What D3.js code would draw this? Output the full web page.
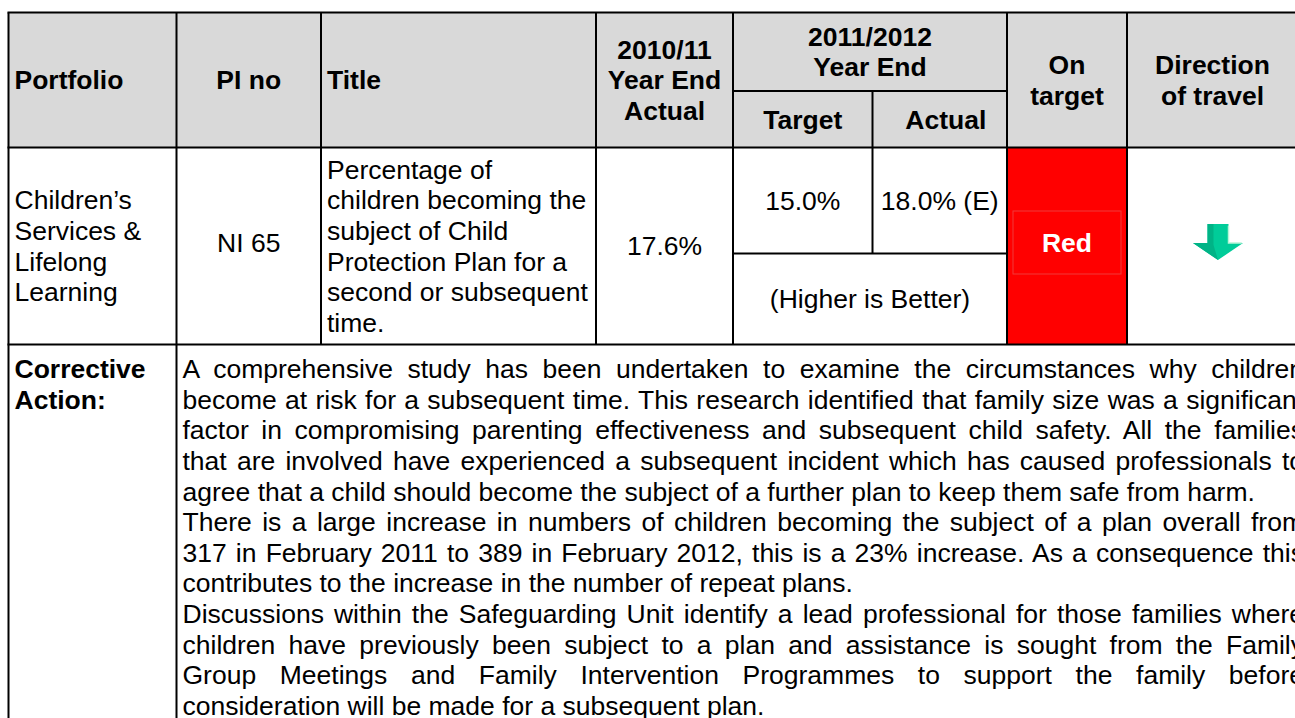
<!DOCTYPE html>
<meta charset="utf-8">
<script src="https://d3js.org/d3.v7.min.js"></script>
<style>
  body { margin: 0; background: #fff; }
  text { font-family: Arial, "Liberation Sans", sans-serif; fill: #000; }
</style>
<div id="my_table"></div>
<script>

// ---- table content ----
var headerCols = ["portfolio", "pino", "title", "prev", "target", "actual", "ontarget", "direction"];
var headerText = [["Portfolio"], ["PI no"], ["Title"], ["2010/11", "Year End", "Actual"],
                  ["Target"], ["Actual"], ["On", "target"], ["Direction", "of travel"]];
var groupHeader = ["2011/2012", "Year End"];

var rowText = [["Children’s", "Services &", "Lifelong", "Learning"],
               ["NI 65"],
               ["Percentage of", "children becoming the", "subject of Child",
                "Protection Plan for a", "second or subsequent", "time."],
               ["17.6%"], ["15.0%"], ["18.0% (E)"], ["Red"], []];
var polarity = "(Higher is Better)";
var status = "Red";
var trend = "down";

var actionLabel = ["Corrective", "Action:"];
var actionLines = [
  "A comprehensive study has been undertaken to examine the circumstances why children",
  "become at risk for a subsequent time. This research identified that family size was a significant",
  "factor in compromising parenting effectiveness and subsequent child safety. All the families",
  "that are involved have experienced a subsequent incident which has caused professionals to",
  "agree that a child should become the subject of a further plan to keep them safe from harm.",
  "There is a large increase in numbers of children becoming the subject of a plan overall from",
  "317 in February 2011 to 389 in February 2012, this is a 23% increase. As a consequence this",
  "contributes to the increase in the number of repeat plans.",
  "Discussions within the Safeguarding Unit identify a lead professional for those families where",
  "children have previously been subject to a plan and assistance is sought from the Family",
  "Group Meetings and Family Intervention Programmes to support the family before",
  "consideration will be made for a subsequent plan."
];
// last line of each paragraph is not justified
var actionJustify = [true, true, true, true, false, true, true, false, true, true, true, false];

// ---- layout ----
var width = 1295, height = 718;
var fontSize = 26.5, lineH = 30.6, pad = 6;

var colLeft = d3.scaleOrdinal().domain(headerCols)
  .range([8.5, 176.5, 321, 596, 733, 872.5, 1007, 1127]);
var colRight = d3.scaleOrdinal().domain(headerCols)
  .range([176.5, 321, 596, 733, 872.5, 1007, 1127, 1298]);
var align = d3.scaleOrdinal().domain(headerCols)
  .range(["start", "middle", "start", "middle", "middle", "middle", "middle", "middle"]);

var yTop = 12.5, yGroup = 91, yHead = 147.5, ySplit = 253.5, yRow = 344.5, yBottom = 730;

function textX(c) {
  if (align(c) === "start") return colLeft(c) + pad;
  return (colLeft(c) + colRight(c)) / 2;
}

var svg = d3.select("#my_table").append("svg")
  .attr("width", width).attr("height", height);

// header background
svg.append("rect")
  .attr("x", colLeft("portfolio")).attr("y", yTop)
  .attr("width", 1310 - colLeft("portfolio"))
  .attr("height", yHead - yTop)
  .attr("fill", "#d9d9d9");

// status cell
svg.append("rect")
  .attr("x", colLeft("ontarget")).attr("y", yHead)
  .attr("width", colRight("ontarget") - colLeft("ontarget"))
  .attr("height", yRow - yHead)
  .attr("fill", "#ff0000");
svg.append("rect")
  .attr("x", colLeft("ontarget") + 6).attr("y", 211)
  .attr("width", colRight("ontarget") - colLeft("ontarget") - 12)
  .attr("height", 63)
  .attr("fill", "none").attr("stroke", "#f03a3a").attr("stroke-width", 1);

// lines of text, centred vertically on cy
function block(g, lines, x, cy, anchor, opts) {
  opts = opts || {};
  var y0 = cy - (lines.length - 1) * lineH / 2;
  g.append("g").selectAll("text")
    .data(lines)
    .enter().append("text")
      .attr("x", x)
      .attr("y", function(d, i) { return y0 + i * lineH; })
      .attr("dy", "0.35em")
      .attr("text-anchor", anchor)
      .style("font-size", (opts.size || fontSize) + "px")
      .style("font-weight", opts.bold ? "bold" : "normal")
      .style("fill", opts.color || "#000")
      .text(function(d) { return d; });
}

// header text
headerCols.forEach(function(c, i) {
  var cy = (yTop + yHead) / 2;
  if (c === "target" || c === "actual") cy = (yGroup + yHead) / 2;
  var x = textX(c);
  if (c === "actual") x += 6;
  block(svg, headerText[i], x, cy, align(c), {bold: true});
});
block(svg, groupHeader, (colLeft("target") + colRight("actual")) / 2, (yTop + yGroup) / 2, "middle", {bold: true});

// data row text
headerCols.forEach(function(c, i) {
  if (!rowText[i].length) return;
  var cy = (yHead + yRow) / 2;
  if (c === "target" || c === "actual") cy = (yHead + ySplit) / 2;
  if (c === "ontarget") {
    block(svg, [status], textX(c), cy - 3, "middle", {bold: true, color: "#fff"});
    return;
  }
  if (c === "pino") cy -= 3;
  block(svg, rowText[i], textX(c), cy, align(c));
});
block(svg, [polarity], (colLeft("target") + colRight("actual")) / 2, (ySplit + yRow) / 2, "middle");

// direction arrow (glyph drawn in its own small unit box)
var ax = d3.scaleLinear().domain([-1, 1]).range([1193, 1243]);
var ay = d3.scaleLinear().domain([0, 1]).range([224, 260]);
var arrowShape = trend === "down"
  ? [[-0.42, 0], [0.42, 0], [0.42, 0.53], [1, 0.53], [0, 1], [-1, 0.53], [-0.42, 0.53]]
  : [];
var arrowShade = [[-0.42, 0], [-0.18, 0], [-0.18, 0.58], [0, 1], [-1, 0.53], [-0.42, 0.53]];
var line = d3.line().x(function(d) { return ax(d[0]); }).y(function(d) { return ay(d[1]); });
svg.append("path").attr("d", line(arrowShape) + "Z").attr("fill", "#00cc99");
svg.append("path").attr("d", line(arrowShade) + "Z").attr("fill", "#00b386");
svg.append("path").attr("d", line([[0.42, 0.05], [0.42, 0.53], [0.95, 0.53]]))
  .attr("fill", "none").attr("stroke", "#b8f5d8").attr("stroke-width", 1.5);

// corrective action
block(svg, actionLabel, colLeft("portfolio") + pad, 369 + lineH / 2, "start", {bold: true});

var bodyX = colRight("portfolio") + pad, bodyW = 1304 - bodyX;
var body = svg.append("g").selectAll("text")
  .data(actionLines)
  .enter().append("text")
    .attr("x", bodyX)
    .attr("y", function(d, i) { return 369 + i * lineH; })
    .attr("dy", "0.35em")
    .style("font-size", fontSize + "px")
    .text(function(d) { return d; });

body.each(function(d, i) {
  if (!actionJustify[i]) return;
  var natural = this.getComputedTextLength();
  var gaps = d.split(" ").length - 1;
  var extra = (bodyW - natural) / gaps;
  d3.select(this).style("word-spacing", extra + "px");
});

// grid lines
var hLines = [
  [colLeft("portfolio"), 1310, yTop],
  [colLeft("target"), colRight("actual"), yGroup],
  [colLeft("portfolio"), 1310, yHead],
  [colLeft("target"), colRight("actual"), ySplit],
  [colLeft("portfolio"), 1310, yRow]
];
var vLines = [
  [colLeft("portfolio"), yTop, yBottom],
  [colLeft("pino"), yTop, yBottom],
  [colLeft("title"), yTop, yRow],
  [colLeft("prev"), yTop, yRow],
  [colLeft("target"), yTop, yRow],
  [colLeft("actual"), yGroup, ySplit],
  [colLeft("ontarget"), yTop, yRow],
  [colLeft("direction"), yTop, yRow]
];
svg.append("g").selectAll("line").data(hLines).enter().append("line")
  .attr("x1", function(d) { return d[0] - 1; }).attr("x2", function(d) { return d[1] + 1; })
  .attr("y1", function(d) { return d[2]; }).attr("y2", function(d) { return d[2]; })
  .attr("stroke", "#000").attr("stroke-width", 2);
svg.append("g").selectAll("line").data(vLines).enter().append("line")
  .attr("x1", function(d) { return d[0]; }).attr("x2", function(d) { return d[0]; })
  .attr("y1", function(d) { return d[1]; }).attr("y2", function(d) { return d[2]; })
  .attr("stroke", "#000").attr("stroke-width", 2);

</script>
